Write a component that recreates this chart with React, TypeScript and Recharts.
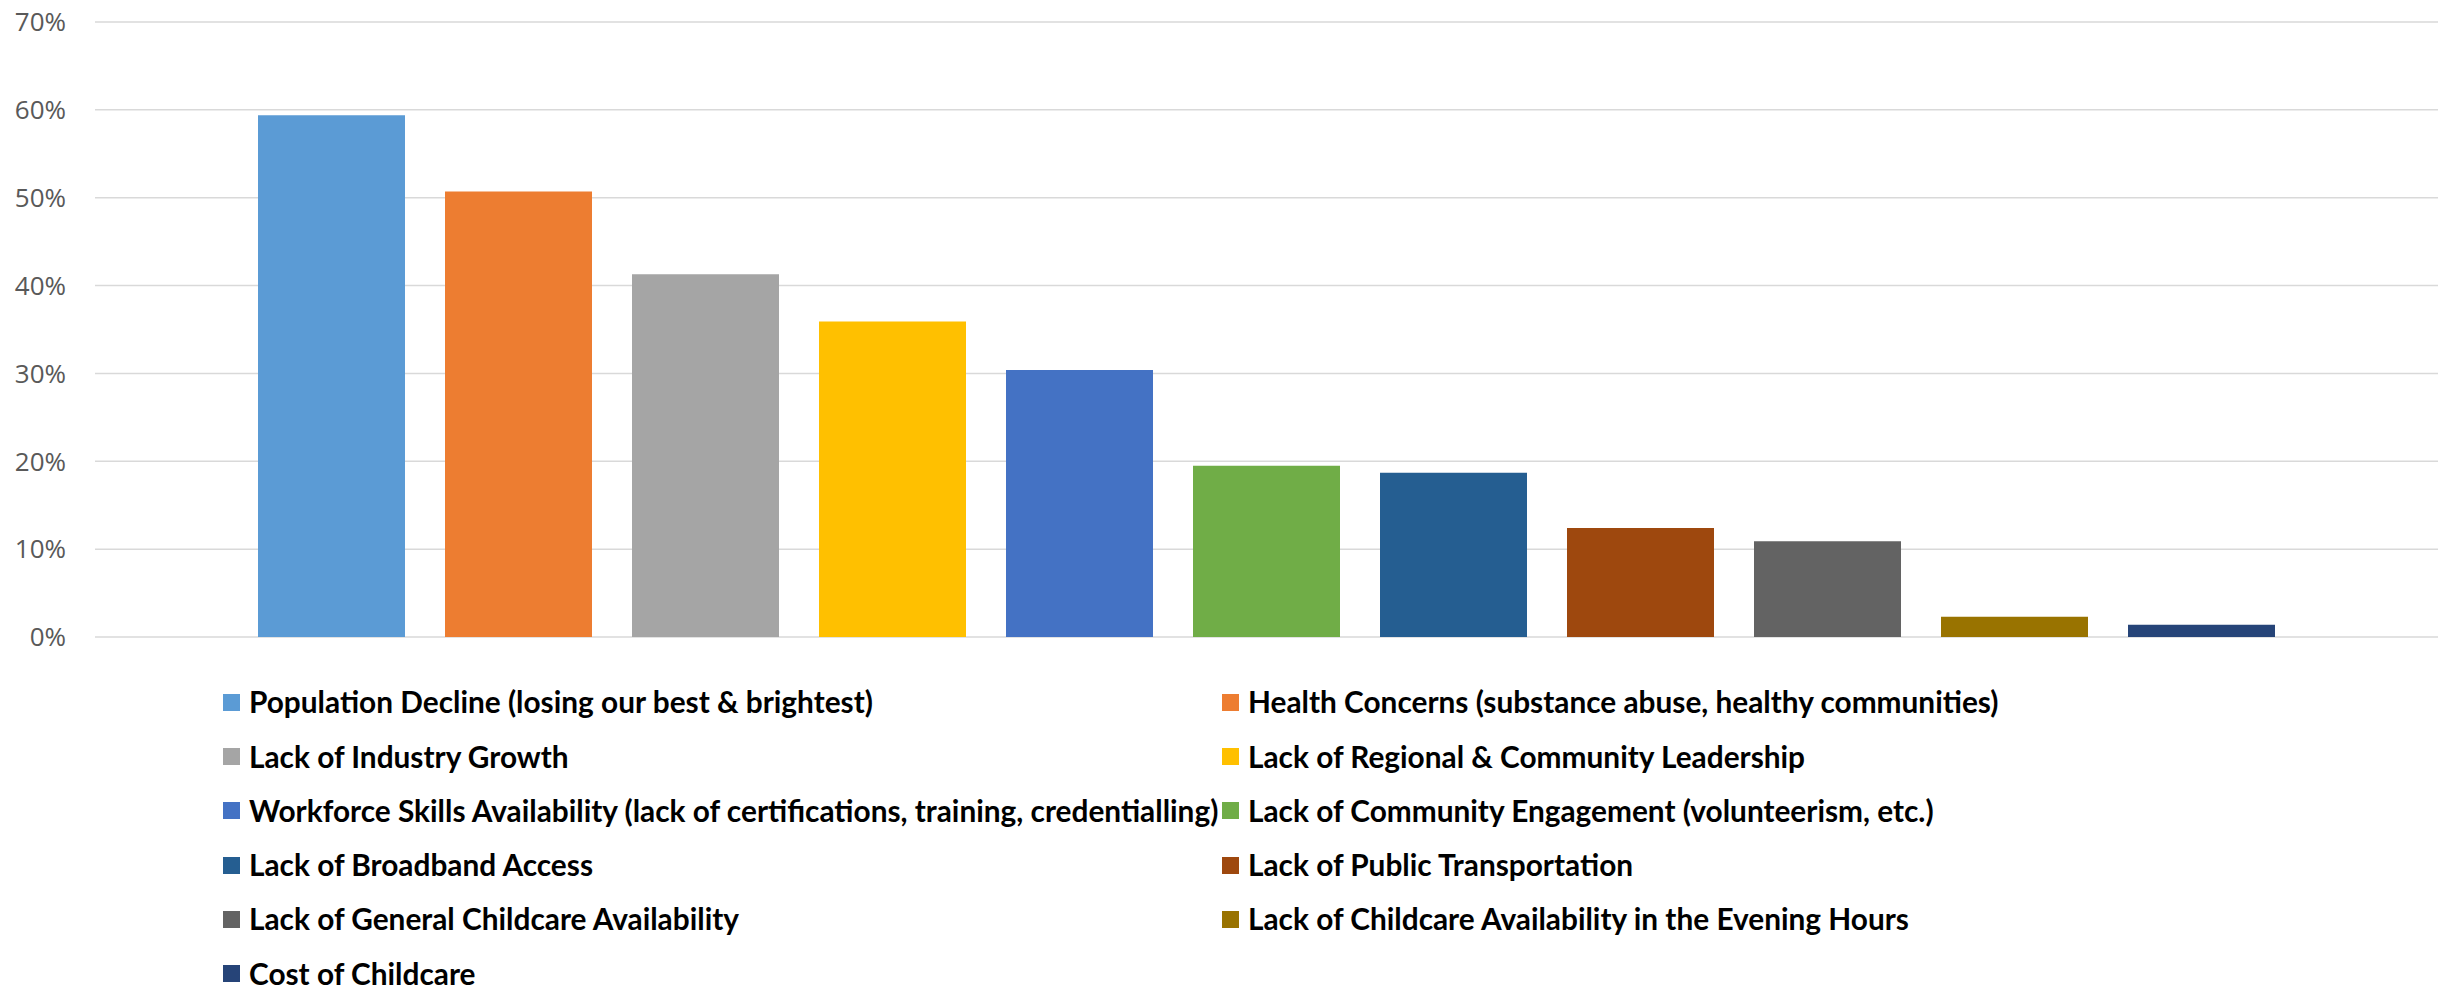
import { Bar, BarChart, CartesianGrid, Cell, Legend, XAxis, YAxis } from "recharts";

const CATEGORIES = [
  "Population Decline (losing our best & brightest)",
  "Health Concerns (substance abuse, healthy communities)",
  "Lack of Industry Growth",
  "Lack of Regional & Community Leadership",
  "Workforce Skills Availability (lack of certifications, training, credentialling)",
  "Lack of Community Engagement (volunteerism, etc.)",
  "Lack of Broadband Access",
  "Lack of Public Transportation",
  "Lack of General Childcare Availability",
  "Lack of Childcare Availability in the Evening Hours",
  "Cost of Childcare",
];

const VALUES = [59.4, 50.7, 41.3, 35.9, 30.4, 19.5, 18.7, 12.4, 10.9, 2.3, 1.4];

const COLORS = [
  "#5B9BD5", "#ED7D31", "#A5A5A5", "#FFC000", "#4472C4", "#70AD47",
  "#255E91", "#9E480E", "#636363", "#997300", "#264478",
];

const Y_TICKS = [0, 10, 20, 30, 40, 50, 60, 70];

const data = CATEGORIES.map((name, i) => ({ name, value: VALUES[i] }));

function LegendGrid() {
  return (
    <div
      style={{
        display: "grid",
        gridTemplateColumns: "999px 1000px",
        gridAutoRows: "54.3px",
        fontFamily: "Lato, sans-serif",
        fontWeight: 700,
        fontSize: 29.8,
        lineHeight: 1,
        color: "#000",
      }}
    >
      {CATEGORIES.map((name, i) => (
        <div key={name} style={{ display: "flex", alignItems: "center", whiteSpace: "nowrap" }}>
          <span style={{ width: 17, height: 17, background: COLORS[i], marginRight: 9, flexShrink: 0 }} />
          <span>{name}</span>
        </div>
      ))}
    </div>
  );
}

export default function App() {
  // pinned to the page corner so no body margin or scrollbar eats into it
  return (
    <div style={{ position: "fixed", top: 0, left: 0, width: 2455, height: 988, overflow: "hidden", background: "#fff" }}>
      <BarChart
        width={2455}
        height={988}
        data={data}
        margin={{ top: 22, right: 17, bottom: 351, left: 0 }}
      >
        <CartesianGrid vertical={false} stroke="#d9d9d9" strokeWidth={1.5} />
        <XAxis dataKey="name" hide padding={{ left: 143, right: 143 }} />
        <YAxis
          width={95}
          domain={[0, 70]}
          ticks={Y_TICKS}
          tickFormatter={(v) => `${v}%`}
          axisLine={false}
          tickLine={false}
          tickSize={0}
          tickMargin={29}
          tick={{ fill: "#595959", fontSize: 26, fontFamily: "'Open Sans', sans-serif" }}
        />
        <Bar dataKey="value" barSize={147} isAnimationActive={false}>
          {data.map((_, i) => (
            <Cell key={i} fill={COLORS[i]} />
          ))}
        </Bar>
        <Legend
          layout="horizontal"
          verticalAlign="middle"
          align="center"
          wrapperStyle={{ top: 675, left: 223, width: 2100 }}
          content={() => <LegendGrid />}
        />
      </BarChart>
    </div>
  );
}
